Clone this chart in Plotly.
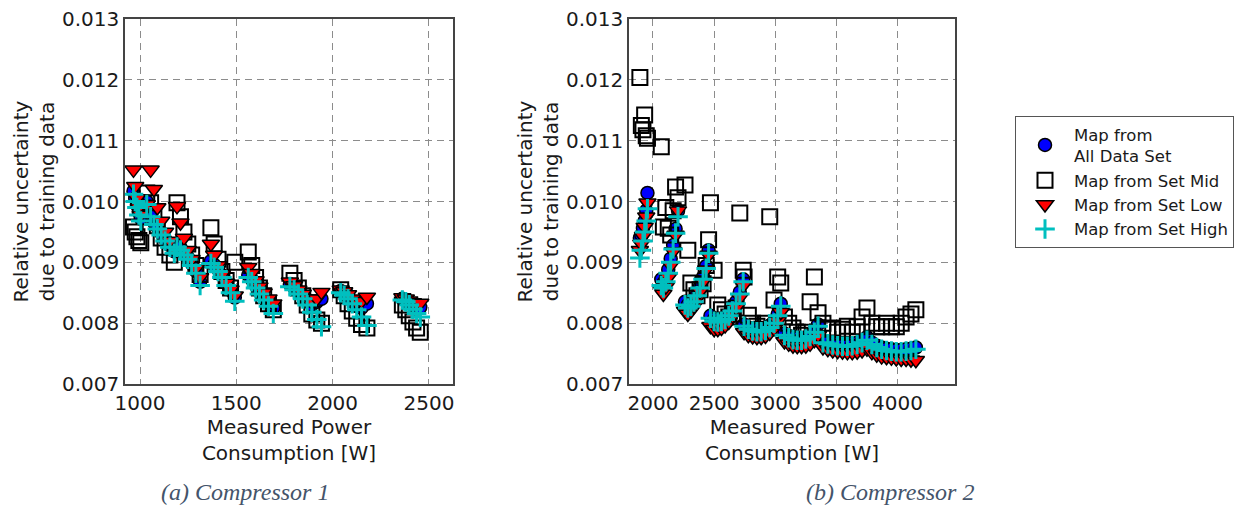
import plotly.graph_objects as go

# ---------------- Compressor 1 ----------------
c1_power = [
    966, 975, 984, 994, 1004,
    1035, 1055, 1072, 1090, 1110, 1130, 1155, 1178,
    1192, 1210, 1228, 1248, 1268, 1290, 1312,
    1368, 1385, 1405, 1425, 1447, 1470, 1492,
    1562, 1580, 1600, 1620, 1642, 1667, 1692,
    1778, 1800, 1822, 1845, 1868, 1892, 1918, 1942,
    2042, 2060, 2080, 2102, 2125, 2150, 2178,
    2362, 2380, 2398, 2417, 2436, 2455,
]
c1_all = [
    0.01017, 0.01005, 0.00994, 0.00982, 0.00972,
    0.01000, 0.00980, 0.00966, 0.00958, 0.00948, 0.00938, 0.00928, 0.00918,
    0.00930, 0.00924, 0.00916, 0.00908, 0.00898, 0.00886, 0.00868,
    0.00902, 0.00896, 0.00889, 0.00879, 0.00866, 0.00854, 0.00842,
    0.00879, 0.00872, 0.00862, 0.00852, 0.00843, 0.00835, 0.00825,
    0.00864, 0.00859, 0.00852, 0.00845, 0.00838, 0.00830, 0.00835, 0.00840,
    0.00853, 0.00849, 0.00843, 0.00836, 0.00828, 0.00825, 0.00832,
    0.00840, 0.00838, 0.00834, 0.00830, 0.00826, 0.00826,
]
c1_mid = [
    0.00958, 0.00950, 0.00942, 0.00936, 0.00932,
    0.01014, 0.00998, 0.00980, 0.00960, 0.00940, 0.00925, 0.00912, 0.00900,
    0.00998, 0.00975, 0.00950, 0.00930, 0.00912, 0.00895, 0.00880,
    0.00957, 0.00930, 0.00905, 0.00885, 0.00870, 0.00858, 0.00900,
    0.00917, 0.00895, 0.00875, 0.00858, 0.00845, 0.00832, 0.00822,
    0.00882, 0.00870, 0.00858, 0.00845, 0.00830, 0.00815, 0.00805, 0.00800,
    0.00855, 0.00845, 0.00832, 0.00820, 0.00808, 0.00798, 0.00792,
    0.00830, 0.00822, 0.00812, 0.00802, 0.00792, 0.00785,
]
c1_low = [
    0.01052, 0.01025, 0.01005, 0.00990, 0.00978,
    0.00995, 0.01052, 0.01020, 0.00990, 0.00968, 0.00950, 0.00935, 0.00920,
    0.00992, 0.00965, 0.00940, 0.00920, 0.00905, 0.00890, 0.00875,
    0.00930, 0.00912, 0.00895, 0.00880, 0.00866, 0.00855, 0.00845,
    0.00892, 0.00882, 0.00870, 0.00860, 0.00850, 0.00840, 0.00832,
    0.00868, 0.00862, 0.00855, 0.00848, 0.00840, 0.00835, 0.00840, 0.00851,
    0.00855, 0.00852, 0.00847, 0.00840, 0.00834, 0.00836, 0.00843,
    0.00842, 0.00840, 0.00837, 0.00834, 0.00832, 0.00833,
]
c1_high = [
    0.01012, 0.01000, 0.00990, 0.00978, 0.00968,
    0.00995, 0.00975, 0.00962, 0.00955, 0.00945, 0.00935, 0.00925, 0.00915,
    0.00925, 0.00920, 0.00912, 0.00905, 0.00895, 0.00882, 0.00862,
    0.00898, 0.00892, 0.00885, 0.00875, 0.00862, 0.00850, 0.00836,
    0.00875, 0.00868, 0.00858, 0.00848, 0.00838, 0.00828, 0.00816,
    0.00860, 0.00855, 0.00848, 0.00840, 0.00830, 0.00818, 0.00806, 0.00794,
    0.00850, 0.00846, 0.00840, 0.00832, 0.00822, 0.00810, 0.00796,
    0.00838, 0.00835, 0.00830, 0.00823, 0.00816, 0.00810,
]

# ---------------- Compressor 2 ----------------
c2_power = [
    1893, 1905, 1918, 1932, 1945, 1955,
    2068, 2085, 2105, 2125, 2145, 2165, 2185, 2205,
    2262, 2285, 2310, 2335, 2360, 2385, 2410, 2435, 2455,
    2470, 2500, 2530, 2560, 2590, 2620, 2650, 2680, 2710, 2738,
    2745, 2780, 2815, 2850, 2885, 2920, 2955, 2990, 3020, 3045,
    3075, 3110, 3145, 3180, 3215, 3250, 3285, 3320, 3350,
    3390, 3430, 3470, 3510, 3550, 3590, 3630, 3670, 3710, 3750,
    3790, 3830, 3870, 3910, 3950, 3990, 4030, 4070, 4110, 4150,
]
c2_all = [
    0.00940, 0.00945, 0.00956, 0.00968, 0.00985, 0.01014,
    0.00872, 0.00866, 0.00874, 0.00888, 0.00906, 0.00928, 0.00955, 0.00985,
    0.00835, 0.00830, 0.00832, 0.00838, 0.00848, 0.00860, 0.00876, 0.00894, 0.00920,
    0.00812, 0.00807, 0.00806, 0.00806, 0.00809, 0.00815, 0.00823, 0.00835, 0.00851, 0.00872,
    0.00798, 0.00793, 0.00790, 0.00789, 0.00789, 0.00791, 0.00796, 0.00803, 0.00815, 0.00832,
    0.00783, 0.00779, 0.00776, 0.00775, 0.00775, 0.00777, 0.00781, 0.00788, 0.00798,
    0.00771, 0.00769, 0.00767, 0.00766, 0.00765, 0.00765, 0.00766, 0.00768, 0.00772, 0.00777,
    0.00768, 0.00763, 0.00760, 0.00758, 0.00757, 0.00756, 0.00756, 0.00757, 0.00758, 0.00760,
]
c2_mid = [
    0.01204, 0.01125, 0.01118, 0.01142, 0.01108, 0.01104,
    0.01090, 0.00958, 0.00990, 0.00956, 0.00945, 0.00985, 0.01024, 0.01006,
    0.01027, 0.00920, 0.00866, 0.00855, 0.00845, 0.00855, 0.00865, 0.00895, 0.00937,
    0.00998, 0.00887, 0.00830, 0.00822, 0.00815, 0.00810, 0.00815, 0.00825, 0.00981, 0.00887,
    0.00876, 0.00813, 0.00800, 0.00795, 0.00790, 0.00800, 0.00975, 0.00838, 0.00876, 0.00866,
    0.00810, 0.00800, 0.00792, 0.00785, 0.00780, 0.00785, 0.00835, 0.00876, 0.00817,
    0.00800, 0.00790, 0.00792, 0.00785, 0.00790, 0.00795, 0.00785, 0.00794, 0.00810, 0.00825,
    0.00800, 0.00794, 0.00794, 0.00800, 0.00794, 0.00794, 0.00800, 0.00810, 0.00815, 0.00822,
]
c2_low = [
    0.00920, 0.00930, 0.00943, 0.00958, 0.00975, 0.00998,
    0.00855, 0.00848, 0.00860, 0.00875, 0.00895, 0.00918, 0.00945, 0.00985,
    0.00820, 0.00815, 0.00820, 0.00828, 0.00840, 0.00852, 0.00868, 0.00888, 0.00912,
    0.00795, 0.00790, 0.00790, 0.00792, 0.00796, 0.00802, 0.00812, 0.00825, 0.00842, 0.00862,
    0.00785, 0.00780, 0.00778, 0.00777, 0.00777, 0.00779, 0.00784, 0.00791, 0.00803, 0.00818,
    0.00770, 0.00766, 0.00763, 0.00762, 0.00762, 0.00763, 0.00766, 0.00772, 0.00780,
    0.00760, 0.00757, 0.00755, 0.00754, 0.00753, 0.00752, 0.00752, 0.00753, 0.00755, 0.00758,
    0.00752, 0.00748, 0.00745, 0.00744, 0.00743, 0.00742, 0.00741, 0.00741, 0.00740, 0.00739,
]
c2_high = [
    0.00907, 0.00920, 0.00935, 0.00950, 0.00968, 0.00988,
    0.00862, 0.00858, 0.00868, 0.00882, 0.00900, 0.00922, 0.00948, 0.00975,
    0.00830, 0.00825, 0.00828, 0.00835, 0.00845, 0.00858, 0.00872, 0.00890, 0.00915,
    0.00808, 0.00803, 0.00802, 0.00803, 0.00806, 0.00812, 0.00820, 0.00832, 0.00848, 0.00868,
    0.00795, 0.00790, 0.00787, 0.00786, 0.00786, 0.00788, 0.00793, 0.00800, 0.00812, 0.00828,
    0.00780, 0.00776, 0.00773, 0.00772, 0.00772, 0.00774, 0.00778, 0.00785, 0.00795,
    0.00768, 0.00766, 0.00764, 0.00763, 0.00762, 0.00762, 0.00763, 0.00765, 0.00768, 0.00772,
    0.00765, 0.00760, 0.00757, 0.00755, 0.00754, 0.00753, 0.00753, 0.00754, 0.00755, 0.00757,
]

series_names = ["Map from<br>All Data Set", "Map from Set Mid",
                "Map from Set Low", "Map from Set High"]
y_ticks = [0.007, 0.008, 0.009, 0.010, 0.011, 0.012, 0.013]
c1_ticks = [1000, 1500, 2000, 2500]
c2_ticks = [2000, 2500, 3000, 3500, 4000]
captions = ["(a) Compressor 1", "(b) Compressor 2"]

W, H = 1241, 508
FONT = "DejaVu Sans"

markers = [
    dict(symbol="circle", size=13, color="#0000FF",
         line=dict(color="black", width=1.5)),
    dict(symbol="square", size=15, color="rgba(0,0,0,0)",
         line=dict(color="black", width=2)),
    dict(symbol="triangle-down", size=15, color="#FF0000",
         line=dict(color="black", width=1.5)),
    dict(symbol="cross-thin", size=14, color="#00BFBF",
         line=dict(color="#00BFBF", width=3)),
]

fig = go.Figure()

for k, (xs, ys_list) in enumerate([
        (c1_power, [c1_all, c1_mid, c1_low, c1_high]),
        (c2_power, [c2_all, c2_mid, c2_low, c2_high])]):
    axis_suffix = "" if k == 0 else "2"
    for i, ys in enumerate(ys_list):
        fig.add_trace(go.Scatter(
            x=xs, y=ys, mode="markers", name=series_names[i],
            marker=markers[i], showlegend=(k == 1),
            xaxis="x" + axis_suffix, yaxis="y" + axis_suffix,
        ))


def px_x(p):
    return p / W


def px_y(p):
    return 1 - p / H


axis_common = dict(
    showline=True, linecolor="#444444", linewidth=1.5, mirror=True,
    showgrid=True, gridcolor="#8c8c8c", griddash="7px,5px", gridwidth=1,
    zeroline=False, ticks="", automargin=False,
    tickfont=dict(family=FONT, size=20, color="#1a1a1a"),
    title_font=dict(family=FONT, size=20, color="#1a1a1a"),
)

ydom = [px_y(384), px_y(19)]
x_title = "Measured Power<br>Consumption [W]"
y_title = "Relative uncertainty<br>due to training data"

fig.update_layout(
    width=W, height=H,
    margin=dict(l=0, r=0, t=0, b=0, autoexpand=False),
    paper_bgcolor="white", plot_bgcolor="white",
    font=dict(family=FONT, color="#1a1a1a"),
    xaxis=dict(domain=[px_x(125), px_x(453)], range=[922, 2625],
               tickvals=c1_ticks, anchor="y",
               title=dict(text=x_title, standoff=2), **axis_common),
    yaxis=dict(domain=ydom, range=[0.007, 0.013], tickvals=y_ticks,
               tickformat=".3f", anchor="x",
               title=dict(text=y_title, standoff=2), **axis_common),
    xaxis2=dict(domain=[px_x(629), px_x(955)], range=[1804, 4470],
                tickvals=c2_ticks, anchor="y2",
                title=dict(text=x_title, standoff=2), **axis_common),
    yaxis2=dict(domain=ydom, range=[0.007, 0.013], tickvals=y_ticks,
                tickformat=".3f", anchor="x2",
                title=dict(text=y_title, standoff=2), **axis_common),
    legend=dict(
        x=px_x(1015), y=px_y(116), xanchor="left", yanchor="top",
        bordercolor="#555555", borderwidth=1, bgcolor="white",
        font=dict(family=FONT, size=16.5, color="#1a1a1a"),
        itemwidth=48,
    ),
)

for text, cx in zip(captions, [245, 890]):
    fig.add_annotation(
        text=text, x=px_x(cx), y=px_y(492), xref="paper", yref="paper",
        xanchor="center", yanchor="middle", showarrow=False,
        font=dict(family="Liberation Serif", size=24, color="#44546A",
                  style="italic"),
    )

fig.write_html("out.html")
